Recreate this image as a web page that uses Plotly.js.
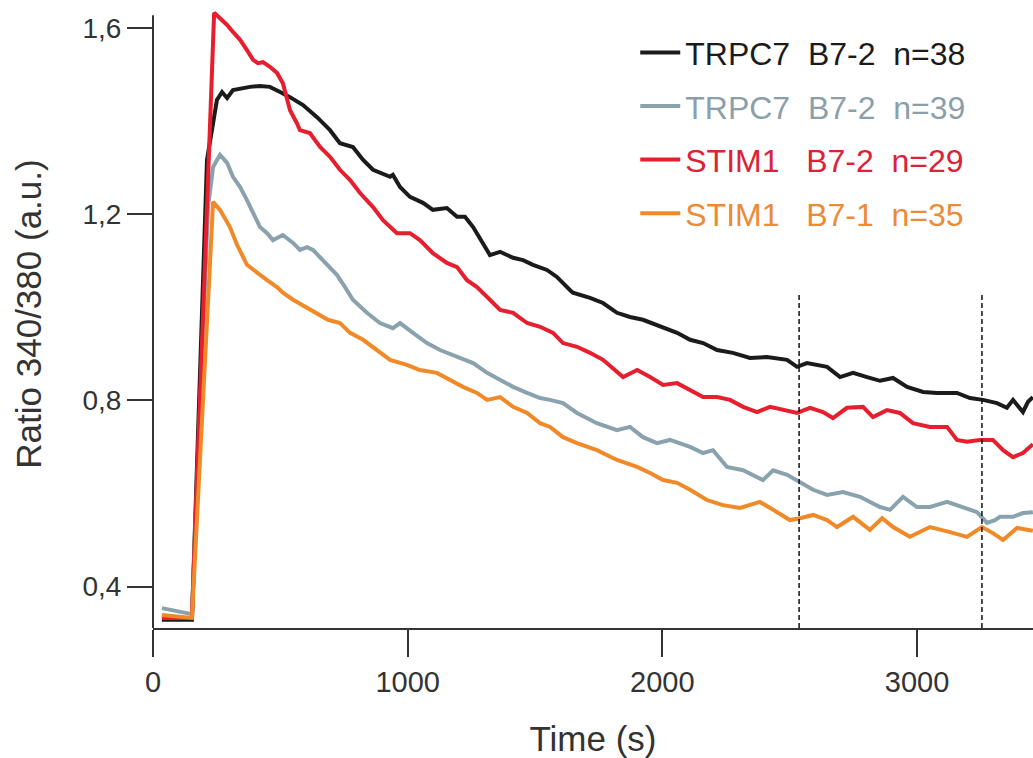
<!DOCTYPE html>
<html><head><meta charset="utf-8">
<script src="https://cdn.plot.ly/plotly-3.0.1.min.js"></script>
<style>html,body{margin:0;padding:0;background:#fff;} #chart{width:1033px;height:758px;}</style>
</head><body><div id="chart"></div>
<script>
// ---- data (time in s, ratio 340/380 in a.u.) ----
const seriesNames = ['TRPC7', 'TRPC7', 'STIM1', 'STIM1'];
const seriesCells = ['B7-2', 'B7-2', 'B7-2', 'B7-1'];
const seriesN = [38, 39, 29, 35];

const timeBlack = [35,153,212,232,251,271,291,314,353,381,420,459,499,538,589,644,695,734,785,825,864,931,942,970,1009,1060,1099,1154,1194,1225,1257,1296,1323,1363,1414,1453,1492,1547,1586,1637,1649,1716,1767,1822,1873,1924,1991,2058,2109,2160,2215,2277,2344,2411,2490,2529,2568,2647,2698,2749,2804,2855,2906,2961,3024,3079,3157,3208,3259,3314,3353,3377,3416,3436,3455];
const ratioBlack = [0.329,0.329,1.316,1.387,1.445,1.462,1.449,1.466,1.471,1.473,1.475,1.473,1.462,1.451,1.434,1.408,1.380,1.352,1.344,1.316,1.295,1.280,1.284,1.258,1.237,1.224,1.209,1.213,1.194,1.194,1.172,1.138,1.112,1.119,1.106,1.101,1.091,1.080,1.065,1.037,1.031,1.020,1.009,0.988,0.979,0.973,0.958,0.945,0.930,0.923,0.908,0.902,0.891,0.893,0.887,0.872,0.880,0.872,0.850,0.859,0.850,0.842,0.848,0.829,0.818,0.816,0.816,0.805,0.801,0.794,0.784,0.801,0.775,0.797,0.807];

const timeGray = [35,153,216,236,263,291,314,342,369,393,420,448,471,510,550,577,605,628,668,723,754,785,840,891,942,970,1021,1076,1127,1194,1257,1312,1363,1414,1469,1520,1559,1610,1665,1743,1822,1873,1924,1979,2030,2109,2160,2199,2254,2317,2395,2435,2490,2541,2592,2647,2709,2776,2855,2894,2945,3000,3051,3118,3181,3236,3275,3306,3326,3377,3416,3455];
const ratioGray = [0.354,0.341,1.215,1.301,1.327,1.310,1.280,1.258,1.230,1.202,1.172,1.159,1.144,1.155,1.138,1.123,1.129,1.123,1.101,1.069,1.043,1.016,0.988,0.966,0.955,0.966,0.945,0.923,0.908,0.893,0.880,0.859,0.844,0.829,0.816,0.805,0.801,0.794,0.773,0.751,0.736,0.743,0.721,0.708,0.715,0.700,0.687,0.693,0.657,0.650,0.629,0.650,0.640,0.623,0.608,0.597,0.603,0.593,0.571,0.565,0.593,0.571,0.571,0.582,0.571,0.560,0.537,0.543,0.550,0.550,0.558,0.560];

const timeRed = [35,153,240,291,314,342,369,393,412,432,459,487,510,526,538,565,577,616,656,695,734,774,813,864,903,958,1009,1048,1099,1154,1194,1233,1272,1323,1363,1414,1469,1520,1571,1610,1665,1716,1767,1846,1901,1952,2003,2058,2109,2160,2215,2266,2317,2372,2423,2474,2529,2580,2631,2670,2725,2788,2827,2882,2933,2984,3051,3118,3157,3196,3247,3298,3338,3377,3416,3455];
const ratioRed = [0.333,0.333,1.632,1.606,1.591,1.574,1.552,1.531,1.524,1.526,1.516,1.503,1.481,1.451,1.423,1.395,1.380,1.374,1.344,1.323,1.295,1.273,1.245,1.215,1.187,1.159,1.159,1.144,1.116,1.095,1.086,1.058,1.043,1.016,0.994,0.988,0.966,0.958,0.945,0.923,0.915,0.902,0.887,0.850,0.865,0.850,0.833,0.837,0.822,0.807,0.807,0.801,0.786,0.775,0.786,0.779,0.773,0.784,0.775,0.762,0.784,0.786,0.764,0.779,0.773,0.751,0.743,0.743,0.715,0.711,0.715,0.715,0.693,0.678,0.687,0.706];

const timeOrange = [35,153,236,263,302,330,369,408,448,487,510,550,597,636,687,734,774,825,880,931,997,1048,1115,1166,1217,1272,1312,1363,1414,1469,1520,1559,1610,1665,1743,1822,1901,1952,2003,2058,2109,2175,2238,2305,2383,2435,2501,2541,2592,2647,2686,2749,2815,2863,2906,2972,3051,3130,3196,3255,3298,3338,3393,3455];
const ratioOrange = [0.339,0.333,1.226,1.209,1.172,1.134,1.091,1.074,1.058,1.043,1.031,1.016,1.001,0.990,0.973,0.966,0.945,0.930,0.908,0.887,0.876,0.865,0.859,0.844,0.829,0.816,0.801,0.807,0.786,0.773,0.751,0.743,0.721,0.708,0.693,0.672,0.657,0.644,0.629,0.623,0.608,0.586,0.575,0.569,0.582,0.565,0.543,0.547,0.554,0.543,0.528,0.550,0.522,0.547,0.528,0.507,0.528,0.517,0.507,0.528,0.515,0.500,0.526,0.520];

const markerTimes = [2537, 3255];
const markerTop = 1.03;

const xTickVals = [0, 1000, 2000, 3000];
const xTickText = ['0', '1000', '2000', '3000'];
const yTickVals = [0.4, 0.8, 1.2, 1.6];
const yTickText = ['0,4', '0,8', '1,2', '1,6'];

// ---- styling ----
const FONT = 'Liberation Sans, Arial, Helvetica, sans-serif';
const lineColors = ['#1b1b1b', '#8aa2ae', '#e61e2d', '#f08a28'];
const textColors = ['#1b1b1b', '#8b9faa', '#dc2236', '#ec8a36'];
const xRange = [0, 3455.5];
const yRange = [0.3113, 1.6595];
const yAxisTop = 1.627;
const NB = '\u00a0';

function label(i) {
  const pad1 = seriesNames[i] === 'TRPC7' ? NB + NB : NB + NB + NB;
  return '<span style="color:' + textColors[i] + '">' + seriesNames[i] + pad1 + seriesCells[i] + NB + NB + 'n=' + seriesN[i] + '</span>';
}

const times = [timeBlack, timeGray, timeRed, timeOrange];
const ratios = [ratioBlack, ratioGray, ratioRed, ratioOrange];

const traces = times.map((t, i) => ({
  type: 'scatter', mode: 'lines', x: t, y: ratios[i],
  name: label(i), legendgroup: 'g' + i,
  line: { color: lineColors[i], width: 4 },
  hoverinfo: 'skip'
}));

const shapes = [{
  type: 'line', xref: 'paper', yref: 'y', x0: 0, x1: 0, y0: yRange[0], y1: yAxisTop,
  line: { color: '#333', width: 2 }
}];
markerTimes.forEach(t => shapes.push({
  type: 'line', xref: 'x', yref: 'y', x0: t, x1: t, y0: yRange[0], y1: markerTop,
  line: { color: '#111', width: 1.5, dash: '5px,3px' }
}));

const layout = {
  width: 1033, height: 758,
  margin: { l: 153, r: 0, t: 0, b: 130, pad: 0 },
  paper_bgcolor: '#fff', plot_bgcolor: '#fff',
  separators: ',.',
  font: { family: FONT, color: '#333' },
  showlegend: true,
  legend: {
    x: 0.548, xanchor: 'left', y: 0.96, yanchor: 'top',
    font: { family: FONT, size: 32, color: '#1b1b1b' },
    bgcolor: 'rgba(0,0,0,0)', borderwidth: 0,
    traceorder: 'grouped', tracegroupgap: 9, itemwidth: 40
  },
  xaxis: {
    range: xRange, tickmode: 'array', tickvals: xTickVals, ticktext: xTickText,
    ticks: 'outside', ticklen: 27, tickwidth: 2, tickcolor: '#333',
    showline: true, linewidth: 2, linecolor: '#333',
    showgrid: false, zeroline: false, automargin: false,
    tickfont: { family: FONT, size: 29, color: '#333' },
    title: { text: 'Time (s)', standoff: 30, font: { family: FONT, size: 35, color: '#333' } }
  },
  yaxis: {
    range: yRange, tickmode: 'array', tickvals: yTickVals, ticktext: yTickText,
    ticks: 'outside', ticklen: 25, tickwidth: 2, tickcolor: '#333',
    showline: false, showgrid: false, zeroline: false, automargin: false,
    tickfont: { family: FONT, size: 28, color: '#333' },
    title: { text: 'Ratio 340/380 (a.u.)', standoff: 30, font: { family: FONT, size: 35, color: '#333' } }
  },
  shapes: shapes
};

Plotly.newPlot('chart', traces, layout, { displayModeBar: false, staticPlot: true });
</script>
</body></html>
